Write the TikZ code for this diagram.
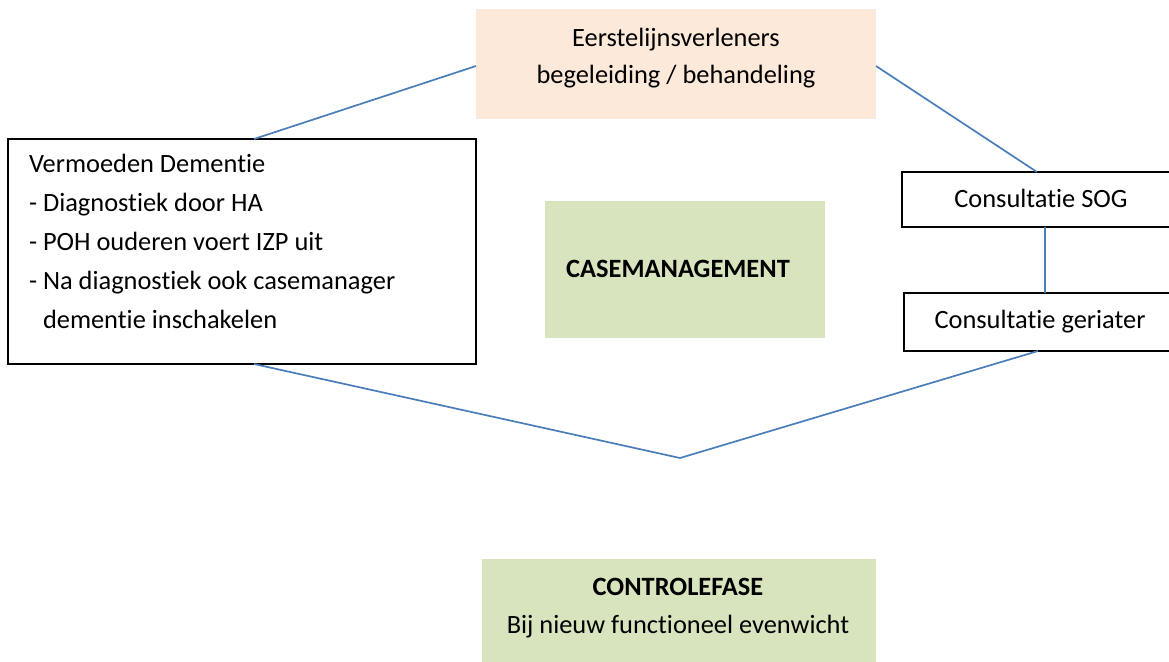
\documentclass[tikz,border=0pt]{standalone}
\usepackage{fontspec}
\setmainfont{Carlito}[Ligatures={NoCommon,NoRare,NoContextual}]
\definecolor{peach}{HTML}{FCE9DA}
\definecolor{sage}{HTML}{D7E4BD}
\definecolor{linkblue}{HTML}{4A7EBB}
\begin{document}
\begin{tikzpicture}[x=0.5pt,y=-0.5pt,
  box/.style={rectangle,inner sep=0pt,outer sep=0pt},
  framed/.style={box,draw=black,line width=1pt,fill=white},
  txt/.style={inner sep=0pt,outer sep=0pt,font=\fontsize{13.2}{19.5}\selectfont},
  link/.style={draw=linkblue,line width=0.85pt}]
\useasboundingbox (0,0) rectangle (1169,661);
\clip (0,0) rectangle (1169,661);
% boxes
\node[box,fill=peach,minimum width=200pt,minimum height=55pt] (peach) at (676,64) {};
\node[txt,align=center,font=\fontsize{13.2}{18.5}\selectfont] (peachtxt) at (676,58.5) {Eerstelijnsverleners\\begeleiding / behandeling};
\node[framed,minimum width=234pt,minimum height=112.5pt] (lbox) at (242,251.5) {};
\node[txt,align=left,anchor=north west] (ltxt) at (29,154) {Vermoeden Dementie\\- Diagnostiek door HA\\- POH ouderen voert IZP uit\\- Na diagnostiek ook casemanager\\\hspace*{7pt}dementie inschakelen};
\node[box,fill=sage,minimum width=140pt,minimum height=68.5pt] (cm) at (685,269.5) {};
\node[txt,font=\fontsize{13.2}{19.5}\selectfont\bfseries] (cmtxt) at (678,269) {CASEMANAGEMENT};
\node[framed,minimum width=135pt,minimum height=27.5pt] (sog) at (1037,199.5) {};
\node[txt] (sogtxt) at (1041,198) {Consultatie SOG};
\node[framed,minimum width=134pt,minimum height=29pt] (ger) at (1038,322) {};
\node[txt] (gertxt) at (1040,322) {Consultatie geriater};
\node[box,fill=sage,minimum width=197pt,minimum height=53pt] (ctrl) at (679,612) {};
\node[txt,font=\fontsize{13.2}{19.5}\selectfont\bfseries] (ctrltxt1) at (678,587) {CONTROLEFASE};
\node[txt] (ctrltxt2) at (678,627) {Bij nieuw functioneel evenwicht};
% connectors
\coordinate (vtx) at (680,458);
\draw[link] ([xshift=6pt]lbox.north) -- ([yshift=-1pt]peach.west);
\draw[link] ([yshift=-1pt]peach.east) -- (sog.north);
\draw[link] ([xshift=4pt]sog.south) -- ([xshift=3.5pt]ger.north);
\draw[link] ([xshift=6pt]lbox.south) -- (vtx);
\draw[link] (ger.south) -- (vtx);
\end{tikzpicture}
\end{document}
